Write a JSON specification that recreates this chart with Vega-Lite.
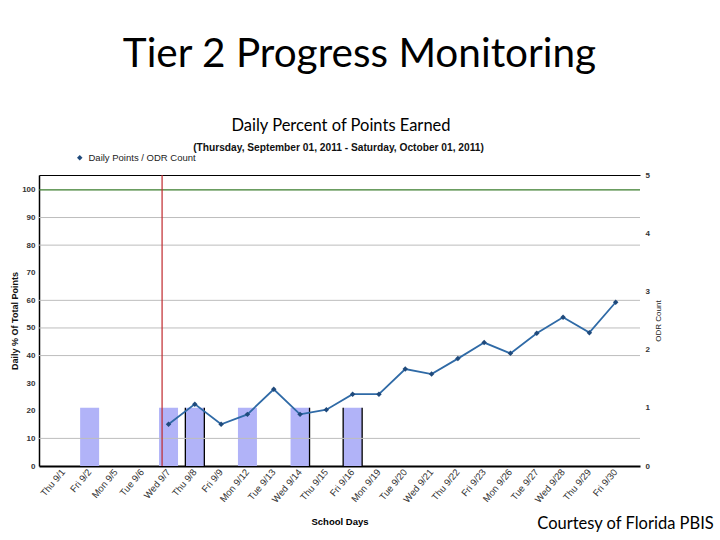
{
  "$schema": "https://vega.github.io/schema/vega-lite/v6.json",
  "width": 601,
  "height": 291,
  "autosize": {"type": "none"},
  "padding": {"left": 39, "top": 175, "right": 80, "bottom": 74},
  "background": "white",
  "title": {"text": "Tier 2 Progress Monitoring", "font": "Lato", "fontSize": 40.5, "fontWeight": "normal", "color": "#000", "anchor": "middle", "frame": "group", "dx": 20, "offset": 42},
  "config": {"view": {"stroke": null}, "font": "Liberation Sans"},
  "datasets": {
    "odr": [
      {"day": "Fri 9/2", "odr": 1},
      {"day": "Wed 9/7", "odr": 1},
      {"day": "Thu 9/8", "odr": 1},
      {"day": "Mon 9/12", "odr": 1},
      {"day": "Wed 9/14", "odr": 1},
      {"day": "Fri 9/16", "odr": 1}
    ],
    "pts": [
      {"day": "Wed 9/7", "pct": 15.1, "series": "Daily Points / ODR Count"},
      {"day": "Thu 9/8", "pct": 22.4, "series": "Daily Points / ODR Count"},
      {"day": "Fri 9/9", "pct": 15.1, "series": "Daily Points / ODR Count"},
      {"day": "Mon 9/12", "pct": 18.7, "series": "Daily Points / ODR Count"},
      {"day": "Tue 9/13", "pct": 27.8, "series": "Daily Points / ODR Count"},
      {"day": "Wed 9/14", "pct": 18.7, "series": "Daily Points / ODR Count"},
      {"day": "Thu 9/15", "pct": 20.4, "series": "Daily Points / ODR Count"},
      {"day": "Fri 9/16", "pct": 26.0, "series": "Daily Points / ODR Count"},
      {"day": "Mon 9/19", "pct": 26.0, "series": "Daily Points / ODR Count"},
      {"day": "Tue 9/20", "pct": 35.1, "series": "Daily Points / ODR Count"},
      {"day": "Wed 9/21", "pct": 33.3, "series": "Daily Points / ODR Count"},
      {"day": "Thu 9/22", "pct": 38.9, "series": "Daily Points / ODR Count"},
      {"day": "Fri 9/23", "pct": 44.7, "series": "Daily Points / ODR Count"},
      {"day": "Mon 9/26", "pct": 40.8, "series": "Daily Points / ODR Count"},
      {"day": "Tue 9/27", "pct": 48.1, "series": "Daily Points / ODR Count"},
      {"day": "Wed 9/28", "pct": 53.9, "series": "Daily Points / ODR Count"},
      {"day": "Thu 9/29", "pct": 48.3, "series": "Daily Points / ODR Count"},
      {"day": "Fri 9/30", "pct": 59.3, "series": "Daily Points / ODR Count"}
    ],
    "grid": [{"v": 10}, {"v": 40}, {"v": 50}, {"v": 60}, {"v": 80}, {"v": 90}],
    "goal": [{"v": 100}],
    "phase": [{"day": "Wed 9/7"}]
  },
  "layer": [
    {
      "data": {"name": "odr"},
      "mark": {"type": "bar", "fill": "#b1b3f8", "stroke": "#000", "strokeWidth": 1.3},
      "encoding": {
        "x": {
          "field": "day", "type": "nominal",
          "scale": {"domain": ["Thu 9/1", "Fri 9/2", "Mon 9/5", "Tue 9/6", "Wed 9/7", "Thu 9/8", "Fri 9/9", "Mon 9/12", "Tue 9/13", "Wed 9/14", "Thu 9/15", "Fri 9/16", "Mon 9/19", "Tue 9/20", "Wed 9/21", "Thu 9/22", "Fri 9/23", "Mon 9/26", "Tue 9/27", "Wed 9/28", "Thu 9/29", "Fri 9/30"], "paddingInner": 0.278, "paddingOuter": 0.564},
          "axis": {"orient": "bottom", "title": "School Days", "labelAngle": -50, "labelFontSize": 9.5, "labelColor": "#333", "labelPadding": 4, "ticks": false, "domainColor": "#000", "domainWidth": 2, "titleFontSize": 9.5, "titleFontWeight": "bold", "titleColor": "#000", "titleX": 300.5, "titleY": 55, "titleBaseline": "middle"}
        },
        "y": {
          "field": "odr", "type": "quantitative",
          "scale": {"domain": [0, 5], "nice": false},
          "axis": {"orient": "right", "title": "ODR Count", "values": [0, 1, 2, 3, 4, 5], "grid": false, "ticks": false, "domain": false, "labelFontSize": 8, "labelFontWeight": "bold", "labelColor": "#333", "labelPadding": 5, "titleFontSize": 8, "titleFontWeight": "normal", "titleColor": "#222", "titleAngle": -90, "titleX": 18, "titleY": 145.5, "titleBaseline": "middle"}
        },
        "strokeDash": {
          "condition": [
            {"test": "datum.day === 'Wed 9/14'", "value": [0, 19, 58.2, 400]},
            {"test": "datum.day === 'Thu 9/8' || datum.day === 'Fri 9/16'", "value": [0, 19, 58.2, 19, 58.2]}
          ],
          "value": [0, 400]
        }
      }
    },
    {
      "layer": [
        {
          "data": {"name": "grid"},
          "mark": {"type": "rule", "color": "#bdbdbd", "strokeWidth": 1},
          "encoding": {"y": {"field": "v", "type": "quantitative", "scale": {"domain": [0, 105.4], "nice": false},
            "axis": {"orient": "left", "title": "Daily % Of Total Points", "values": [0, 10, 20, 30, 40, 50, 60, 70, 80, 90, 100], "grid": false, "ticks": false, "domainColor": "#000", "domainWidth": 1.5, "labelFontSize": 8, "labelFontWeight": "bold", "labelColor": "#333", "labelPadding": 4, "titleFontSize": 9, "titleFontWeight": "bold", "titleColor": "#111", "titleAngle": -90, "titleX": -25, "titleY": 145.5, "titleBaseline": "middle"}}}
        },
        {
          "data": {"name": "goal"},
          "mark": {"type": "rule", "color": "#3a7d2c", "strokeWidth": 1.2},
          "encoding": {"y": {"field": "v", "type": "quantitative", "scale": {"domain": [0, 105.4], "nice": false},
            "axis": {"orient": "left", "title": "Daily % Of Total Points", "values": [0, 10, 20, 30, 40, 50, 60, 70, 80, 90, 100], "grid": false, "ticks": false, "domainColor": "#000", "domainWidth": 1.5, "labelFontSize": 8, "labelFontWeight": "bold", "labelColor": "#333", "labelPadding": 4, "titleFontSize": 9, "titleFontWeight": "bold", "titleColor": "#111", "titleAngle": -90, "titleX": -25, "titleY": 145.5, "titleBaseline": "middle"}}}
        },
        {
          "data": {"name": "pts"},
          "mark": {"type": "line", "color": "#2f6aa6", "strokeWidth": 1.8},
          "encoding": {
            "x": {
              "field": "day", "type": "nominal",
              "scale": {"domain": ["Thu 9/1", "Fri 9/2", "Mon 9/5", "Tue 9/6", "Wed 9/7", "Thu 9/8", "Fri 9/9", "Mon 9/12", "Tue 9/13", "Wed 9/14", "Thu 9/15", "Fri 9/16", "Mon 9/19", "Tue 9/20", "Wed 9/21", "Thu 9/22", "Fri 9/23", "Mon 9/26", "Tue 9/27", "Wed 9/28", "Thu 9/29", "Fri 9/30"], "paddingInner": 0.278, "paddingOuter": 0.564},
              "axis": {"orient": "top", "title": "(Thursday, September 01, 2011 - Saturday, October 01, 2011)", "labels": false, "ticks": false, "domainColor": "#000", "domainWidth": 1.2, "titleFontSize": 10.2, "titleFontWeight": "bold", "titleColor": "#111", "titleX": 299, "titleY": -28, "titleBaseline": "middle"}
            },
            "y": {
              "field": "pct", "type": "quantitative",
              "scale": {"domain": [0, 105.4], "nice": false},
              "axis": {"orient": "left", "title": "Daily % Of Total Points", "values": [0, 10, 20, 30, 40, 50, 60, 70, 80, 90, 100], "grid": false, "ticks": false, "domainColor": "#000", "domainWidth": 1.5, "labelFontSize": 8, "labelFontWeight": "bold", "labelColor": "#333", "labelPadding": 4, "titleFontSize": 9, "titleFontWeight": "bold", "titleColor": "#111", "titleAngle": -90, "titleX": -25, "titleY": 145.5, "titleBaseline": "middle"}
            }
          }
        },
        {
          "data": {"name": "pts"},
          "mark": {"type": "point", "shape": "diamond", "filled": true, "size": 30, "opacity": 1},
          "encoding": {
            "x": {
              "field": "day", "type": "nominal",
              "scale": {"domain": ["Thu 9/1", "Fri 9/2", "Mon 9/5", "Tue 9/6", "Wed 9/7", "Thu 9/8", "Fri 9/9", "Mon 9/12", "Tue 9/13", "Wed 9/14", "Thu 9/15", "Fri 9/16", "Mon 9/19", "Tue 9/20", "Wed 9/21", "Thu 9/22", "Fri 9/23", "Mon 9/26", "Tue 9/27", "Wed 9/28", "Thu 9/29", "Fri 9/30"], "paddingInner": 0.278, "paddingOuter": 0.564},
              "axis": {"orient": "bottom", "title": "Courtesy of Florida PBIS", "labels": false, "ticks": false, "domain": false, "titleFont": "Lato", "titleFontSize": 16.5, "titleFontWeight": "normal", "titleColor": "#000", "titleX": 586, "titleY": 57, "titleBaseline": "middle"}
            },
            "y": {"field": "pct", "type": "quantitative", "scale": {"domain": [0, 105.4], "nice": false},
              "axis": {"orient": "left", "title": "Daily % Of Total Points", "values": [0, 10, 20, 30, 40, 50, 60, 70, 80, 90, 100], "grid": false, "ticks": false, "domainColor": "#000", "domainWidth": 1.5, "labelFontSize": 8, "labelFontWeight": "bold", "labelColor": "#333", "labelPadding": 4, "titleFontSize": 9, "titleFontWeight": "bold", "titleColor": "#111", "titleAngle": -90, "titleX": -25, "titleY": 145.5, "titleBaseline": "middle"}},
            "color": {
              "field": "series", "type": "nominal",
              "scale": {"range": ["#1f4a7c"]},
              "legend": {"orient": "none", "legendX": 36, "legendY": -22, "title": null, "symbolType": "diamond", "symbolSize": 30, "labelFontSize": 9.5, "labelColor": "#222", "labelOffset": 4}
            }
          }
        }
      ],
      "resolve": {"axis": {"x": "independent"}}
    },
    {
      "data": {"name": "phase"},
      "mark": {"type": "rule", "color": "#c0282d", "strokeWidth": 1.2},
      "encoding": {
        "x": {
          "field": "day", "type": "nominal", "bandPosition": 0.16,
          "scale": {"domain": ["Thu 9/1", "Fri 9/2", "Mon 9/5", "Tue 9/6", "Wed 9/7", "Thu 9/8", "Fri 9/9", "Mon 9/12", "Tue 9/13", "Wed 9/14", "Thu 9/15", "Fri 9/16", "Mon 9/19", "Tue 9/20", "Wed 9/21", "Thu 9/22", "Fri 9/23", "Mon 9/26", "Tue 9/27", "Wed 9/28", "Thu 9/29", "Fri 9/30"], "paddingInner": 0.278, "paddingOuter": 0.564},
          "axis": {"orient": "top", "title": "Daily Percent of Points Earned", "labels": false, "ticks": false, "domain": false, "titleFont": "Lato", "titleFontSize": 16.5, "titleFontWeight": "normal", "titleColor": "#000", "titleX": 301.5, "titleY": -50, "titleBaseline": "middle"}
        }
      }
    }
  ],
  "resolve": {"scale": {"y": "independent"}, "axis": {"x": "independent", "y": "independent"}}
}
